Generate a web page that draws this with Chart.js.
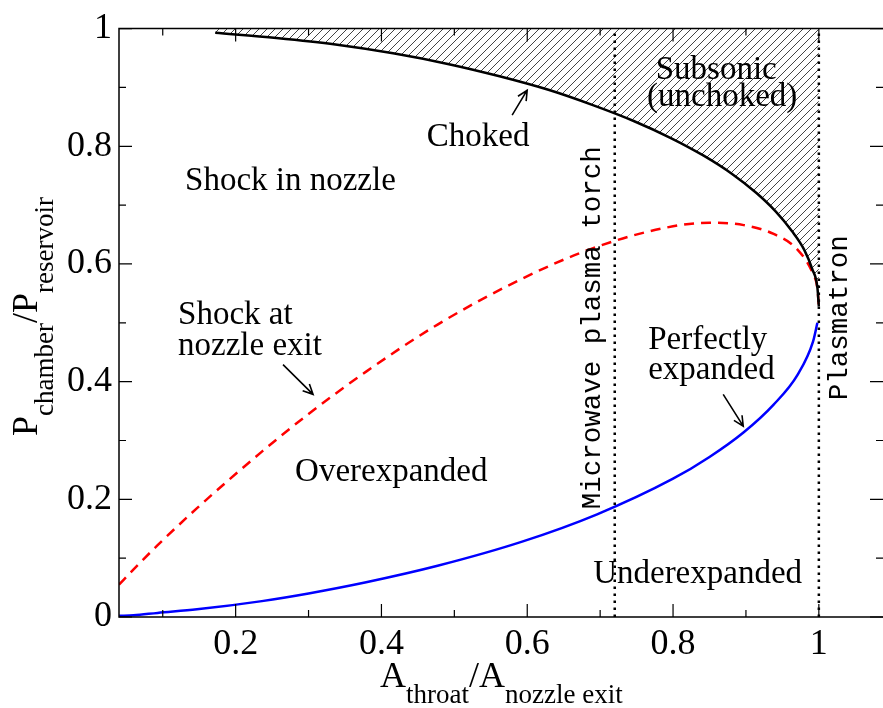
<!DOCTYPE html>
<html>
<head>
<meta charset="utf-8">
<script src="https://cdn.jsdelivr.net/npm/chart.js@4.4.1/dist/chart.umd.min.js"></script>
<style>
  html, body { margin: 0; padding: 0; background: #fff; overflow: hidden; }
  canvas { display: block; }
</style>
</head>
<body>
<canvas id="nozzleChart" width="883" height="708"></canvas>
<script>
// Choked (subsonic) limit
const chokedX = [0.172, 0.256, 0.337, 0.416, 0.491, 0.562, 0.629, 0.690, 0.746, 0.797, 0.842, 0.881, 0.914, 0.941, 0.963, 0.980, 0.991, 0.998, 1.0];
const chokedY = [0.993, 0.984, 0.973, 0.958, 0.940, 0.919, 0.896, 0.870, 0.843, 0.814, 0.784, 0.753, 0.721, 0.689, 0.656, 0.624, 0.591, 0.560, 0.528];

// Shock at nozzle exit
const shockX = [0.04, 0.060, 0.093, 0.147, 0.236, 0.300, 0.379, 0.477, 0.593, 0.695, 0.800, 0.850, 0.897, 0.938, 0.971, 0.992, 0.998, 1.0];
const shockY = [0.055, 0.081, 0.122, 0.185, 0.281, 0.345, 0.417, 0.497, 0.575, 0.629, 0.664, 0.670, 0.666, 0.651, 0.624, 0.583, 0.558, 0.528];

// Perfectly expanded
const perfectX = [0.04, 0.060, 0.093, 0.147, 0.236, 0.300, 0.379, 0.477, 0.593, 0.695, 0.800, 0.850, 0.897, 0.938, 0.971, 0.992, 0.998];
const perfectY = [0.002, 0.003, 0.007, 0.013, 0.027, 0.040, 0.059, 0.087, 0.128, 0.174, 0.235, 0.272, 0.314, 0.361, 0.412, 0.468, 0.500];

// facility lines
const torchX = 0.72;
const plasmatronX = 1.0;

const xTicks = [0.2, 0.4, 0.6, 0.8, 1];
const xMinor = [0.1, 0.3, 0.5, 0.7, 0.9];
const yTicks = [0, 0.2, 0.4, 0.6, 0.8, 1];
const yMinor = [0.1, 0.3, 0.5, 0.7, 0.9];

const toPoints = (xs, ys) => xs.map((x, i) => ({ x, y: ys[i] }));

// text notes in data units
const notes = [
  { text: "Shock in nozzle", x: 0.1306, y: 0.7264, align: "left" },
  { text: "Choked", x: 0.5326, y: 0.8007, align: "center" },
  { text: "Subsonic", x: 0.8592, y: 0.9139, align: "center" },
  { text: "(unchoked)", x: 0.8674, y: 0.8682, align: "center" },
  { text: "Shock at", x: 0.121, y: 0.4983, align: "left" },
  { text: "nozzle exit", x: 0.121, y: 0.446, align: "left" },
  { text: "Overexpanded", x: 0.2815, y: 0.2314, align: "left" },
  { text: "Perfectly", x: 0.7659, y: 0.456, align: "left" },
  { text: "expanded", x: 0.7659, y: 0.4037, align: "left" },
  { text: "Underexpanded", x: 0.6904, y: 0.0574, align: "left" }
];
const arrows = [
  { x0: 0.5793, y0: 0.853, x1: 0.5999, y1: 0.8953 },
  { x0: 0.265, y0: 0.429, x1: 0.3062, y1: 0.3784 },
  { x0: 0.8688, y0: 0.3784, x1: 0.8963, y1: 0.3243 }
];
const sideLabels = [
  { text: "Microwave plasma torch", x: 0.70, y: 0.4916 },
  { text: "Plasmatron", x: 1.039, y: 0.5084 }
];

function hatchPattern() {
  const c = document.createElement("canvas");
  c.width = 8; c.height = 8;
  const g = c.getContext("2d");
  g.strokeStyle = "#444";
  g.lineWidth = 1;
  g.beginPath();
  g.moveTo(0, 8); g.lineTo(8, 0);
  g.moveTo(-2, 2); g.lineTo(2, -2);
  g.moveTo(6, 10); g.lineTo(10, 6);
  g.stroke();
  return g.createPattern(c, "repeat");
}

const serif = '"Liberation Serif", "Times New Roman", serif';

const decorPlugin = {
  id: "decor",
  afterDatasetsDraw(chart) {
    const { ctx, chartArea: a, scales: { x, y } } = chart;
    ctx.save();

    // frame
    ctx.strokeStyle = "#000";
    ctx.lineWidth = 1.5;
    ctx.beginPath();
    ctx.moveTo(a.right + 2, a.top); ctx.lineTo(a.left, a.top);
    ctx.lineTo(a.left, a.bottom); ctx.lineTo(a.right + 2, a.bottom);
    ctx.stroke();

    // inward ticks
    const tick = (v, len, axis) => {
      if (axis === "x") {
        const px = x.getPixelForValue(v);
        ctx.moveTo(px, a.bottom); ctx.lineTo(px, a.bottom - len);
        ctx.moveTo(px, a.top); ctx.lineTo(px, a.top + len);
      } else {
        const py = y.getPixelForValue(v);
        ctx.moveTo(a.left, py); ctx.lineTo(a.left + len, py);
        ctx.moveTo(a.right, py); ctx.lineTo(a.right - len, py);
      }
    };
    ctx.lineWidth = 1.2;
    ctx.beginPath();
    xTicks.forEach(v => tick(v, 13, "x"));
    xMinor.forEach(v => tick(v, 7, "x"));
    yTicks.forEach(v => tick(v, 13, "y"));
    yMinor.forEach(v => tick(v, 7, "y"));
    ctx.stroke();

    // notes
    ctx.fillStyle = "#000";
    ctx.font = "33px " + serif;
    ctx.textBaseline = "alphabetic";
    notes.forEach(n => {
      ctx.textAlign = n.align;
      ctx.fillText(n.text, x.getPixelForValue(n.x), y.getPixelForValue(n.y));
    });

    // arrows
    ctx.lineWidth = 1.6;
    arrows.forEach(ar => {
      const x0 = x.getPixelForValue(ar.x0), y0 = y.getPixelForValue(ar.y0);
      const x1 = x.getPixelForValue(ar.x1), y1 = y.getPixelForValue(ar.y1);
      const ang = Math.atan2(y1 - y0, x1 - x0);
      const h = 11, w = 0.45;
      ctx.beginPath();
      ctx.moveTo(x0, y0); ctx.lineTo(x1, y1);
      ctx.moveTo(x1 - h * Math.cos(ang - w), y1 - h * Math.sin(ang - w));
      ctx.lineTo(x1, y1);
      ctx.lineTo(x1 - h * Math.cos(ang + w), y1 - h * Math.sin(ang + w));
      ctx.stroke();
    });

    // rotated monospace labels
    ctx.font = '27.5px "Liberation Mono", "Courier New", monospace';
    ctx.textAlign = "center";
    sideLabels.forEach(s => {
      ctx.save();
      ctx.translate(x.getPixelForValue(s.x), y.getPixelForValue(s.y));
      ctx.rotate(-Math.PI / 2);
      ctx.fillText(s.text, 0, 0);
      ctx.restore();
    });

    // axis titles with subscripts
    const parts = (list, startX, baseY, rotate) => {
      ctx.save();
      if (rotate) {
        ctx.translate(baseY, startX);
        ctx.rotate(-Math.PI / 2);
      } else {
        ctx.translate(startX, baseY);
      }
      ctx.textAlign = "left";
      let cx = 0;
      list.forEach(([t, sub]) => {
        ctx.font = (sub ? "27px " : "36px ") + serif;
        ctx.fillText(t, cx, sub ? 16 : 0);
        cx += ctx.measureText(t).width;
      });
      ctx.restore();
    };
    parts([["A"], ["throat", 1], ["/A"], ["nozzle exit", 1]], 380, 687, false);
    parts([["P"], ["chamber", 1], ["/P"], ["reservoir", 1]], 436, 37, true);

    ctx.restore();
  }
};

new Chart(document.getElementById("nozzleChart"), {
  type: "scatter",
  data: {
    datasets: [
      {
        data: [{ x: torchX, y: 0 }, { x: torchX, y: 1 }],
        showLine: true, borderColor: "#000", borderWidth: 2.5,
        borderDash: [2.5, 4.5], pointRadius: 0, fill: false
      },
      {
        data: [{ x: plasmatronX, y: 0 }, { x: plasmatronX, y: 1 }],
        showLine: true, borderColor: "#000", borderWidth: 2.5,
        borderDash: [2.5, 4.5], pointRadius: 0, fill: false
      },
      {
        label: "Choked",
        data: toPoints(chokedX, chokedY),
        showLine: true, borderColor: "#000", borderWidth: 2.5,
        backgroundColor: hatchPattern(), fill: "end",
        pointRadius: 0, cubicInterpolationMode: "monotone"
      },
      {
        label: "Shock at nozzle exit",
        data: toPoints(shockX, shockY),
        showLine: true, borderColor: "#ff0000", borderWidth: 2.5,
        borderDash: [10, 7], pointRadius: 0, fill: false,
        cubicInterpolationMode: "monotone"
      },
      {
        label: "Perfectly expanded",
        data: toPoints(perfectX, perfectY),
        showLine: true, borderColor: "#0000ff", borderWidth: 2.5,
        pointRadius: 0, fill: false, cubicInterpolationMode: "monotone"
      }
    ]
  },
  options: {
    responsive: false,
    devicePixelRatio: 1,
    animation: false,
    layout: { padding: { top: 25, right: 0, left: 0, bottom: 0 } },
    plugins: { legend: { display: false }, tooltip: { enabled: false } },
    scales: {
      x: {
        type: "linear", min: 0.04, max: 1.088,
        afterBuildTicks: s => { s.ticks = xTicks.map(v => ({ value: v })); },
        afterFit: s => { s.height = 91; },
        grid: { display: false, drawTicks: false },
        border: { display: false },
        ticks: {
          autoSkip: false, maxRotation: 0, padding: 6, color: "#000",
          font: { family: serif, size: 36 },
          callback: v => String(v)
        }
      },
      y: {
        type: "linear", min: 0, max: 1,
        afterBuildTicks: s => { s.ticks = yTicks.map(v => ({ value: v })); },
        afterFit: s => { s.width = 119; },
        grid: { display: false, drawTicks: false },
        border: { display: false },
        ticks: {
          autoSkip: false, padding: 7, color: "#000",
          font: { family: serif, size: 36 },
          callback: v => String(v)
        }
      }
    }
  },
  plugins: [decorPlugin]
});
</script>
</body>
</html>
